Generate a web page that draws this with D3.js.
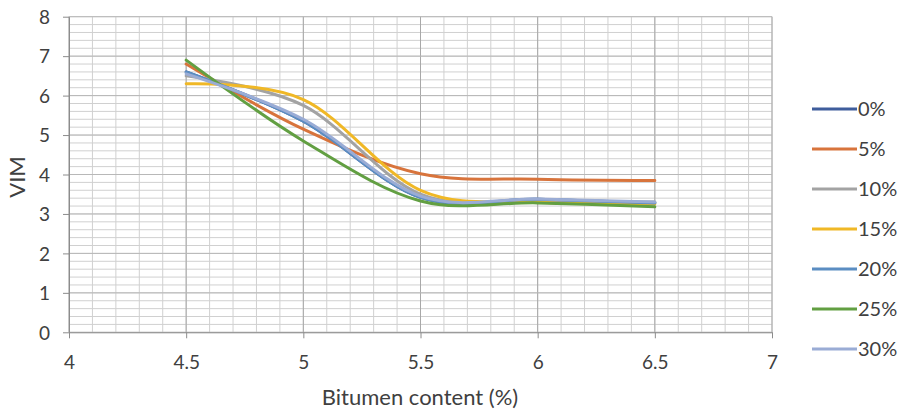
<!DOCTYPE html>
<html>
<head>
    <meta charset="utf-8">
    <title>VIM vs Bitumen content</title>
    <script src="https://d3js.org/d3.v7.min.js"></script>
    <style>
        body { margin: 0; background: #fff; }
        svg { display: block; }
        text { font-family: Lato, "Open Sans", sans-serif; fill: #404040; }
        .axis-title { font-size: 22px; }
        .legend text { font-size: 20px; }
    </style>
</head>
<body>
    <svg width="899" height="412"></svg>
    <script>
        // 数据
        const bitumen = [4.5, 5, 5.5, 6, 6.5];
        const seriesNames = ["0%", "5%", "10%", "15%", "20%", "25%", "30%"];
        const vim0  = [6.6, 5.35, 3.42, 3.37, 3.28];
        const vim5  = [6.8, 5.15, 4.02, 3.88, 3.85];
        const vim10 = [6.5, 5.75, 3.5, 3.35, 3.3];
        const vim15 = [6.3, 5.9, 3.6, 3.3, 3.25];
        const vim20 = [6.6, 5.35, 3.42, 3.37, 3.28];
        const vim25 = [6.9, 4.85, 3.33, 3.28, 3.18];
        const vim30 = [6.55, 5.4, 3.45, 3.38, 3.3];
        const xTicks = [4, 4.5, 5, 5.5, 6, 6.5, 7];
        const yTicks = [0, 1, 2, 3, 4, 5, 6, 7, 8];
        const colors = ["#3f5d9c", "#d8743c", "#a3a3a3", "#f0b826", "#5b8dc2", "#629f42", "#9aacd5"];

        const allSeries = [vim0, vim5, vim10, vim15, vim20, vim25, vim30];

        const svg = d3.select("svg");
        const pLeft = 69, pRight = 772, pTop = 16.7, pBottom = 332.3;

        const x = d3.scaleLinear().domain([4, 7]).range([pLeft, pRight]);
        const y = d3.scaleLinear().domain([0, 8]).range([pBottom, pTop]);

        // 网格线（次要）
        const g = svg.append("g");
        g.selectAll("line.vminor")
            .data(d3.range(4, 7.0001, 0.1))
            .enter().append("line")
            .attr("x1", d => x(d)).attr("x2", d => x(d))
            .attr("y1", pTop).attr("y2", pBottom)
            .attr("stroke", "#d0d0d0").attr("stroke-width", 1);
        g.selectAll("line.hminor")
            .data(d3.range(0, 8.0001, 0.2))
            .enter().append("line")
            .attr("x1", pLeft).attr("x2", pRight)
            .attr("y1", d => y(d)).attr("y2", d => y(d))
            .attr("stroke", "#d0d0d0").attr("stroke-width", 1);

        // 网格线（主要）
        g.selectAll("line.vmajor")
            .data(xTicks)
            .enter().append("line")
            .attr("x1", d => x(d)).attr("x2", d => x(d))
            .attr("y1", pTop).attr("y2", pBottom)
            .attr("stroke", "#a8a8a8").attr("stroke-width", 1);
        g.selectAll("line.hmajor")
            .data(yTicks)
            .enter().append("line")
            .attr("x1", pLeft).attr("x2", pRight)
            .attr("y1", d => y(d)).attr("y2", d => y(d))
            .attr("stroke", "#b8b8b8").attr("stroke-width", 1);

        // 坐标轴
        const xAxis = svg.append("g")
            .attr("transform", `translate(0,${pBottom})`)
            .call(d3.axisBottom(x).tickValues(xTicks).tickSize(6).tickSizeOuter(0).tickFormat(d3.format("")));
        const yAxis = svg.append("g")
            .attr("transform", `translate(${pLeft},0)`)
            .call(d3.axisLeft(y).tickValues(yTicks).tickSize(6).tickSizeOuter(0));

        [xAxis, yAxis].forEach(a => {
            a.select(".domain").attr("stroke", "#8c8c8c");
            a.selectAll(".tick line").attr("stroke", "#8c8c8c");
            a.selectAll(".tick text")
                .attr("fill", "#404040")
                .style("font-family", "Lato, sans-serif")
                .style("font-size", "19px");
        });
        xAxis.selectAll(".tick text").attr("dy", null).attr("y", 37);
        yAxis.selectAll(".tick text").attr("x", -19).attr("dy", "0.36em");

        // 曲线
        const line = d3.line()
            .x((d, i) => x(bitumen[i]))
            .y(d => y(d))
            .curve(d3.curveCardinal.tension(0));

        svg.append("g").selectAll("path")
            .data(allSeries)
            .enter().append("path")
            .attr("d", line)
            .attr("fill", "none")
            .attr("stroke", (d, i) => colors[i])
            .attr("stroke-width", 3)
            .attr("stroke-linecap", "round");

        // 轴标题
        svg.append("text")
            .attr("class", "axis-title")
            .attr("x", 420).attr("y", 405)
            .attr("text-anchor", "middle")
            .text("Bitumen content (%)");
        svg.append("text")
            .attr("class", "axis-title")
            .attr("transform", "translate(25,177) rotate(-90)")
            .attr("text-anchor", "middle")
            .text("VIM");

        // 图例
        const legend = svg.append("g").attr("class", "legend");
        const items = legend.selectAll("g")
            .data(seriesNames)
            .enter().append("g")
            .attr("transform", (d, i) => `translate(812,${109 + i * 40})`);
        items.append("line")
            .attr("x1", 0).attr("x2", 45)
            .attr("stroke", (d, i) => colors[i])
            .attr("stroke-width", 3);
        items.append("text")
            .attr("x", 46).attr("dy", "0.36em")
            .text(d => d);
    </script>
</body>
</html>
